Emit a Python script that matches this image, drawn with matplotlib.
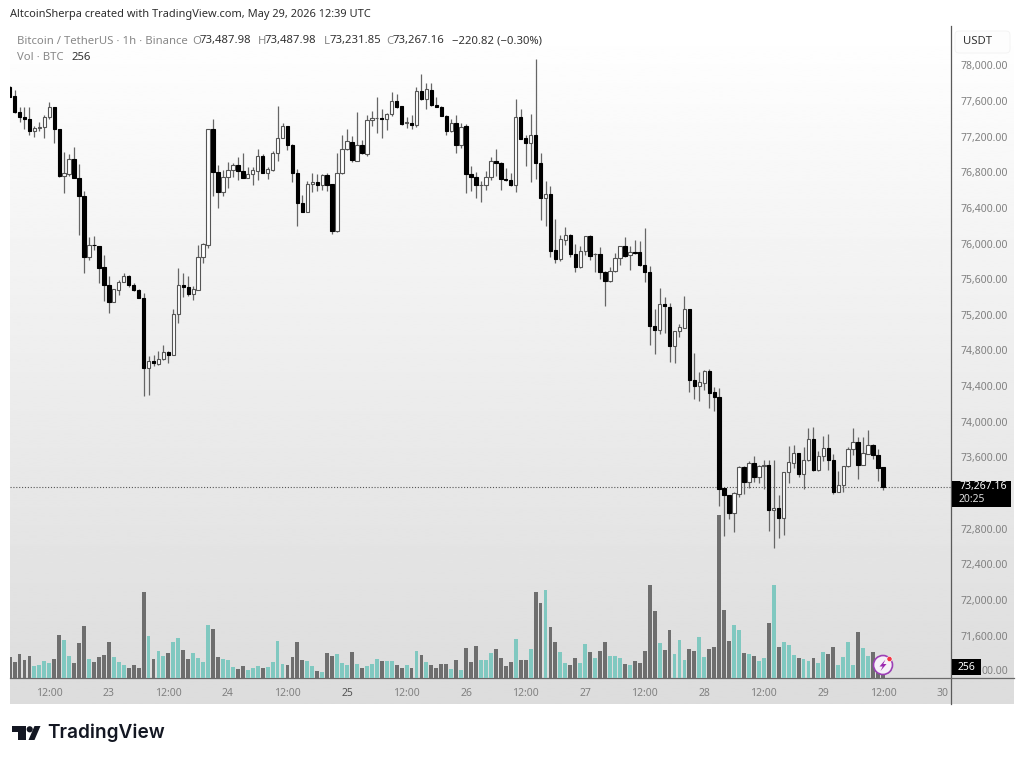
import numpy as np
import matplotlib
matplotlib.use("Agg")
import matplotlib.pyplot as plt
from matplotlib.lines import Line2D
from matplotlib.patches import Rectangle, FancyBboxPatch, Circle, Polygon
from matplotlib.transforms import IdentityTransform

opens = [77763,77658,77482,77423,77404,77262,77299,77307,77419,77535,
 77284,76764,76776,76951,76742,76529,75848,75987,75972,75732,
 75534,75343,75482,75568,75631,75538,75478,75388,74599,74678,
 74644,74704,74782,74745,75209,75538,75515,75437,75478,75848,
 75979,77284,76802,76577,76745,76828,76880,76820,76742,76779,
 76820,76985,76794,76828,77015,77190,77318,77112,76798,76457,
 76360,76667,76693,76656,76768,76667,76136,76790,77059,77145,
 76932,77104,77003,77385,77407,77411,77396,77452,77602,77542,
 77351,77359,77333,77710,77620,77729,77557,77538,77437,77261,
 77359,77108,77318,76786,76749,76656,76656,76745,76925,76906,
 76727,76715,76663,77418,77183,77127,77224,76906,76510,76555,
 75930,75829,76046,76102,75885,75736,75919,76083,75881,75878,
 75683,75575,75687,75833,75971,75870,75908,75908,75765,75679,
 75074,75025,75320,75293,74851,75016,75057,75267,74470,74406,
 74440,74571,74332,74283,73254,73176,72981,73187,73490,73322,
 73535,73385,73501,73509,73008,73030,72914,73434,73542,73647,
 73412,73569,73808,73453,73610,73707,73572,73213,73292,73498,
 73696,73774,73513,73643,73741,73628,73487.98]
closes = [77651,77475,77419,77400,77262,77299,77307,77419,77535,77284,
 76761,76791,76955,76742,76529,75848,75979,75979,75728,75530,
 75343,75485,75571,75631,75530,75474,75388,74599,74678,74655,
 74707,74782,74745,75209,75534,75515,75437,75485,75848,75994,
 77284,76802,76581,76746,76828,76880,76820,76738,76779,76828,
 76985,76798,76835,77015,77190,77318,77108,76798,76457,76360,
 76670,76689,76656,76768,76663,76136,76798,77059,77149,76936,
 77104,77015,77389,77407,77415,77396,77456,77602,77538,77344,
 77362,77333,77710,77620,77733,77557,77538,77437,77265,77359,
 77108,77314,76783,76749,76656,76659,76745,76925,76902,76723,
 76715,76663,77418,77179,77127,77224,76902,76510,76555,75922,
 75829,76050,76098,75881,75736,75919,76083,75863,75885,75676,
 75575,75691,75836,75971,75863,75908,75900,75762,75676,75070,
 75025,75320,75294,74851,75020,75061,75267,74470,74403,74444,
 74567,74328,74276,73247,73172,72981,73198,73490,73318,73535,
 73385,73505,73509,73011,73030,72914,73434,73546,73647,73412,
 73569,73808,73453,73610,73703,73572,73213,73292,73498,73696,
 73774,73513,73647,73741,73625,73479,73267.16]
highs = [77774,77726,77531,77539,77531,77322,77363,77445,77587,77539,
 77284,77030,77008,77090,76892,76592,76072,76087,75975,75874,
 75631,75489,75586,75669,75642,75556,75493,75444,74741,74752,
 74790,74865,74790,75265,75725,75669,75639,75519,75979,76005,
 77292,77396,76884,76828,76921,76910,76970,77015,76858,76865,
 77063,77007,76865,77045,77546,77359,77321,77116,76839,76547,
 76708,76798,76783,76783,76798,76670,77015,77220,77284,77209,
 77482,77164,77445,77493,77643,77516,77471,77699,77680,77546,
 77426,77445,77763,77905,77807,77800,77650,77546,77445,77396,
 77445,77359,77344,76876,76801,76704,76813,76977,77059,76921,
 76846,76798,77620,77516,77220,77456,78073,77015,76704,76648,
 76274,76098,76181,76106,75997,75975,76087,76098,75893,75967,
 75691,75736,75893,75975,76072,75975,76042,76031,76173,75754,
 75264,75500,75406,75330,75024,75098,75416,75270,74769,74564,
 74582,74590,74395,74380,73258,73180,73206,73498,73498,73554,
 73610,73516,73565,73572,73572,73180,73441,73729,73741,73651,
 73722,73928,73946,73666,73845,73864,73640,73449,73505,73711,
 73928,73827,73827,73902,73752,73692,73487.98]
lows = [77651,77464,77370,77284,77221,77202,77262,77183,77396,77135,
 76746,76566,76761,76742,76099,75669,75818,75923,75556,75358,
 75220,75340,75418,75564,75512,75470,75384,74285,74304,74621,
 74640,74696,74659,74745,75108,75399,75414,75369,75474,75781,
 75949,76536,76398,76536,76629,76753,76715,76734,76734,76656,
 76715,76790,76730,76820,76929,77183,77052,76697,76192,76356,
 76356,76584,76596,76603,76596,76110,76128,76783,77052,76914,
 76925,77007,76985,77321,77239,77187,77276,77433,77520,77333,
 77295,77284,77306,77613,77508,77546,77531,77433,77220,77254,
 77022,77071,76573,76592,76517,76472,76603,76715,76760,76603,
 76708,76648,76584,77172,76872,76686,76723,76267,76203,75848,
 75780,75803,75986,75848,75676,75728,75874,75818,75676,75601,
 75305,75571,75683,75762,75855,75706,75885,75754,75571,74864,
 74763,74984,74995,74676,74664,74949,75053,74339,74257,74238,
 74358,74156,74122,73056,72720,72907,72757,73154,73191,73258,
 73329,73311,73243,72768,72581,72694,72731,73311,73479,73378,
 73243,73561,73445,73449,73554,73460,73191,73210,73206,73494,
 73628,73359,73509,73640,73580,73340,73231.85]
volumes = [488,364,566,419,519,287,295,403,349,442,1008,884,512,349,814,1201,442,364,488,543,
 845,488,372,295,225,295,225,2000,969,450,636,512,574,829,930,651,442,581,457,380,
 1240,1147,488,434,419,256,202,271,178,225,271,225,256,380,868,318,295,488,845,
 419,388,279,171,147,581,512,558,349,310,597,333,225,271,333,442,403,388,388,310,240,
 295,225,620,527,364,295,233,318,326,202,419,178,705,364,736,419,419,581,674,457,
 271,364,899,419,419,674,2000,1736,2038,1186,845,597,349,295,457,349,798,597,457,636,
 829,504,504,457,333,302,395,349,628,2162,1558,806,651,1116,558,884,411,667,636,953,
 488,667,721,3798,1573,860,1232,1108,581,558,504,395,473,1271,2162,721,829,760,543,473,
 450,395,473,349,612,566,721,295,488,829,310,1077,705,519,597,271,256]

x_tick_hours = [8,20,32,44,56,68,80,92,104,116,128,140,152,164,176,188]
x_tick_labels = ["12:00","23","12:00","24","12:00","25","12:00","26","12:00","27",
                 "12:00","28","12:00","29","12:00","30"]
price_ticks = [71600,72000,72400,72800,73600,74000,74400,74800,75200,75600,
               76000,76400,76800,77200,77600,78000]
last_price = 73267.16

W, H = 1024, 762
FONT = "Noto Sans"
plt.rcParams["font.family"] = [FONT, "DejaVu Sans"]
fig = plt.figure(figsize=(W/100, H/100), dpi=100, facecolor="white")

def rect(x0, y0, x1, y1):
    return [x0/W, 1-y1/H, (x1-x0)/W, (y1-y0)/H]
def fx(x): return x/W
def fy(y): return 1-y/H
def P(x, y): return (x, H-y)

# gradient background
bg = fig.add_axes(rect(10, 26, 1014, 704), zorder=-2)
bg.imshow(np.linspace(255, 220, 256).reshape(-1, 1), cmap="gray", vmin=0, vmax=255,
          aspect="auto", interpolation="bilinear")
bg.axis("off")

ax = fig.add_axes(rect(10, 26, 951, 678), zorder=2)
ax_v = ax.twinx()
ax_v.set_zorder(1)
ax.set_zorder(2)
ax.patch.set_visible(False)
ax_v.patch.set_visible(False)

n = len(closes)
xs = np.arange(n)
o, c, h, l = map(np.array, (opens[:n], closes, highs[:n], lows[:n]))
up = c >= o

ax.set_xlim(0.08, 189.72)
ax.set_ylim(71123, 78443)
ax_v.set_ylim(0, 15159)

vol = np.array(volumes[:n])
ax_v.bar(xs[:len(vol)], vol, width=0.78, color=np.where(up[:len(vol)], "#80c8c0", "#6e6e6e"), linewidth=0)
ax_v.set_yticks([])

ax.vlines(xs, l, h, color="#666666", linewidth=0.9, zorder=2)
ax.bar(xs, np.abs(c-o), bottom=np.minimum(o, c), width=0.68,
       color=np.where(up, "white", "black"), edgecolor=np.where(up, "#555555", "black"),
       linewidth=0.8, zorder=3)
ax.axhline(last_price, color="#555555", linewidth=0.8, linestyle=(0, (1, 1.6)), zorder=1)

ax.yaxis.tick_right()
ax.set_yticks(price_ticks)
ax.set_yticklabels([f"{p:,.2f}" for p in price_ticks], fontsize=7.5, color="#808080")
ax.tick_params(axis="y", length=0, pad=6.5)
ax.set_xticks(x_tick_hours)
ax.set_xticklabels(x_tick_labels, fontsize=7.5, color="#808080")
ax.tick_params(axis="x", length=0, pad=7)
for t, s in zip(ax.get_xticklabels(), x_tick_labels):
    if s == "25":
        t.set_fontweight("bold")
        t.set_color("#555555")
for a in (ax, ax_v):
    for s in a.spines.values():
        s.set_visible(False)

# frame lines
fig.add_artist(Line2D([fx(951), fx(951)], [fy(26), fy(704)], color="#5a5a5a", lw=0.9, zorder=1))
fig.add_artist(Line2D([fx(10), fx(1014)], [fy(678), fy(678)], color="#6a6a6a", lw=0.9, zorder=1))

# header texts
def T(x, y, s, **kw):
    kw.setdefault("va", "center")
    kw.setdefault("ha", "left")
    kw.setdefault("zorder", 6)
    return fig.text(fx(x), fy(y), s, **kw)

T(10, 15, "AltcoinSherpa created with TradingView.com, May 29, 2026 12:39 UTC", fontsize=7.95, color="#2e2e2e")
G, D = "#888888", "#333333"
T(17, 41, "Bitcoin / TetherUS · 1h · Binance", fontsize=8.15, color=G)
for x, lab, xv, val in [(192, "O", 200, "73,487.98"), (258, "H", 265, "73,487.98"),
                        (324, "L", 330, "73,231.85"), (386, "C", 393, "73,267.16")]:
    T(x, 41, lab, fontsize=8.15, color=G)
    T(xv, 41, val, fontsize=8.15, color=D)
T(452, 41, "−220.82 (−0.30%)", fontsize=8.15, color=D)
T(17, 57, "Vol · BTC", fontsize=8.15, color=G)
T(71, 57, "256", fontsize=8.15, color=D)

# USDT box
fig.add_artist(FancyBboxPatch((955, H-53), 55, 22, boxstyle="round,pad=0,rounding_size=4",
                              transform=IdentityTransform(), fc="#fdfdfd", ec="#f2f2f2", lw=0.6, zorder=3))
T(963, 41, "USDT", fontsize=8.15, color="#333333")

# last price label
fig.add_artist(Rectangle((952, H-507), 59, 26, transform=IdentityTransform(), fc="black", ec="none", zorder=4))
T(959, 487, "73,267.16", fontsize=7.5, color="white", fontweight="bold")
T(959, 499, "20:25", fontsize=7.5, color="#dddddd")

# volume label: sits over the last price tick, which is therefore not drawn beneath it
fig.add_artist(Rectangle((952, H-675), 29, 16, transform=IdentityTransform(), fc="black", ec="none", zorder=4))
T(966.5, 667, "256", fontsize=7.5, color="white", fontweight="bold", ha="center")
T(982, 671, "00.00", fontsize=7.5, color="#808080")

# bolt icon
fig.add_artist(Circle(P(883, 665), 9.5, transform=IdentityTransform(), fc="#f6f0f8", ec="#9c3fb5", lw=1.2, zorder=5))
fig.add_artist(Polygon([P(885.5, 659.5), P(879.5, 666.5), P(882.7, 666.5), P(880.5, 671),
                        P(886.5, 664), P(883.3, 664)], closed=True,
                       transform=IdentityTransform(), fc="#9c27b0", ec="none", zorder=6))
fig.add_artist(Circle(P(889.5, 659), 2.6, transform=IdentityTransform(), fc="#f23645", ec="white", lw=0.4, zorder=6))

# logo
LOGO = "#131722"
for pts in ([P(12, 726), P(25.5, 726), P(25.5, 740), P(18, 740), P(18, 731.5), P(12, 731.5)],
            [P(28.5, 740), P(34.5, 726), P(40.5, 726), P(34.5, 740)]):
    fig.add_artist(Polygon(pts, closed=True, transform=IdentityTransform(), fc=LOGO, ec="none", zorder=6))
fig.add_artist(Circle(P(29.7, 729.3), 3.1, transform=IdentityTransform(), fc=LOGO, ec="none", zorder=6))
T(47.5, 733, "TradingView", fontsize=13.7, color=LOGO, family="Inter", fontweight="semibold")

fig.savefig("out.png", dpi=100, facecolor="white")
